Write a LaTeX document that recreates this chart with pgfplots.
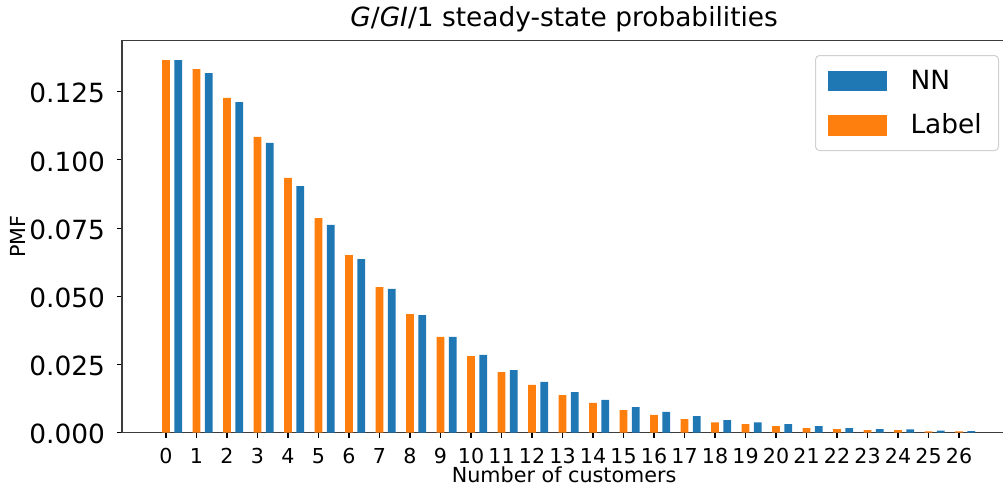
\documentclass[border=0pt]{standalone}
\usepackage{pgfplots}
\pgfplotsset{compat=1.18}
\usepackage{fontspec}
\setmainfont{DejaVu Sans}
\definecolor{nnblue}{RGB}{31,119,180}
\definecolor{lborange}{RGB}{255,127,14}
\definecolor{legborder}{RGB}{208,208,208}
\definecolor{spine}{RGB}{60,60,60}
\begin{document}
\begin{tikzpicture}
\begin{axis}[
  at={(0,0)}, anchor=south west,
  scale only axis,
  width=884.3bp, height=392bp,
  xmin=-1.4426, xmax=27.55,
  ymin=0, ymax=0.1437,
  axis line style={draw=spine, line width=1.1bp},
  tick style={black, line width=1.1bp},
  major tick length=4.9bp,
  tick align=outside,
  xtick pos=bottom, ytick pos=left,
  xtick={0,1,...,26},
  ytick={0,0.025,0.05,0.075,0.1,0.125},
  /pgf/number format/assume math mode=true,
  yticklabel style={/pgf/number format/fixed, /pgf/number format/fixed zerofill, /pgf/number format/precision=3,
    font=\fontsize{26.4bp}{30bp}\selectfont, anchor=east, inner sep=0pt, xshift=-12bp, yshift=-1.5bp},
  xticklabel style={font=\fontsize{20.6bp}{24bp}\selectfont, anchor=base, inner sep=0pt, yshift=-25.6bp},
  scaled y ticks=false,
  title={\textit{G}/\textit{GI}/1 steady-state probabilities},
  title style={font=\fontsize{26.4bp}{30bp}\selectfont, at={(axis description cs:0.5,1)}, anchor=base, inner sep=0pt, yshift=8.4bp},
  xlabel={Number of customers},
  xlabel style={font=\fontsize{20.7bp}{24bp}\selectfont, at={(axis description cs:0.5,-0.1270)}, anchor=base, inner sep=0pt},
  ylabel={PMF},
  ylabel style={font=\fontsize{20.7bp}{24bp}\selectfont, at={(axis description cs:-0.1176,0.5)}, anchor=center, inner sep=0pt},
  legend cell align=left,
  legend style={
    at={(axis description cs:0.7837,0.9635)}, anchor=north west,
    draw=legborder, line width=1bp, rounded corners=4bp, fill=white,
    inner xsep=12bp, inner ysep=15bp,
    font=\fontsize{26.4bp}{30bp}\selectfont,
    row sep=23.7bp, column sep=24bp,
    nodes={inner sep=0pt, text height=17.4bp, text depth=0pt, text width=76bp, align=left},
  },
]
\addplot[ybar, bar shift=0pt, bar width=0.25, fill=nnblue, draw=none,
  legend image code/.code={\fill[nnblue, sharp corners] (0bp,-10.35bp) rectangle (59bp,10.35bp);}]
  table {
x y
0.4 0.1366
1.4 0.1318
2.4 0.1212
3.4 0.1062
4.4 0.0904
5.4 0.0762
6.4 0.0636
7.4 0.0527
8.4 0.0431
9.4 0.0351
10.4 0.0285
11.4 0.0229
12.4 0.0186
13.4 0.0149
14.4 0.0120
15.4 0.0094
16.4 0.0076
17.4 0.0061
18.4 0.0046
19.4 0.0038
20.4 0.0031
21.4 0.0024
22.4 0.0017
23.4 0.0013
24.4 0.0012
25.4 0.0008
26.4 0.0006
};
\addlegendentry{NN}
\addplot[ybar, bar shift=0pt, bar width=0.25, fill=lborange, draw=none,
  legend image code/.code={\fill[lborange, sharp corners] (0bp,-10.35bp) rectangle (59bp,10.35bp);}]
  table {
x y
0 0.1366
1 0.1333
2 0.1227
3 0.1084
4 0.0934
5 0.0787
6 0.0651
7 0.0534
8 0.0435
9 0.0351
10 0.0281
11 0.0222
12 0.0175
13 0.0138
14 0.0109
15 0.0083
16 0.0065
17 0.0050
18 0.0038
19 0.0031
20 0.0024
21 0.0017
22 0.0013
23 0.0009
24 0.0009
25 0.0005
26 0.0005
};
\addlegendentry{Label}
\end{axis}
\pgfresetboundingbox
\useasboundingbox (-122bp,-53.3bp) rectangle (881bp,432.7bp);
\end{tikzpicture}
\end{document}
